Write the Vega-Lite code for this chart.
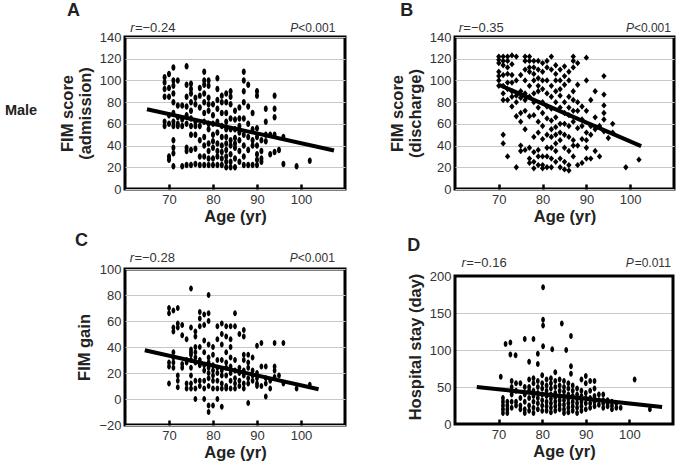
{
"$schema":"https://vega.github.io/schema/vega-lite/v6.json",
"autosize":{"type":"pad"},
"padding":{"left":3,"top":0,"right":2,"bottom":1},
"background":"white",
"datasets":{
"A":[
{"age":69,"score":103},{"age":69,"score":98},{"age":69,"score":92},{"age":69,"score":85},{"age":69,"score":62},{"age":69,"score":58},
{"age":70,"score":106},{"age":70,"score":93},{"age":70,"score":85},{"age":70,"score":68},{"age":70,"score":60},{"age":70,"score":30},{"age":70,"score":27},
{"age":71,"score":112},{"age":71,"score":100},{"age":71,"score":95},{"age":71,"score":88},{"age":71,"score":80},{"age":71,"score":70},{"age":71,"score":62},{"age":71,"score":58},{"age":71,"score":45},{"age":71,"score":38},{"age":71,"score":33},{"age":71,"score":21},
{"age":72,"score":100},{"age":72,"score":77},{"age":72,"score":66},{"age":72,"score":60},{"age":72,"score":58},
{"age":73,"score":77},{"age":73,"score":64},{"age":73,"score":58},{"age":73,"score":21},
{"age":74,"score":113},{"age":74,"score":96},{"age":74,"score":85},{"age":74,"score":76},{"age":74,"score":68},{"age":74,"score":60},{"age":74,"score":38},{"age":74,"score":35},{"age":74,"score":22},
{"age":75,"score":97},{"age":75,"score":92},{"age":75,"score":88},{"age":75,"score":80},{"age":75,"score":72},{"age":75,"score":65},{"age":75,"score":58},{"age":75,"score":50},{"age":75,"score":36},{"age":75,"score":22},
{"age":76,"score":84},{"age":76,"score":78},{"age":76,"score":62},{"age":76,"score":58},{"age":76,"score":50},{"age":76,"score":37},{"age":76,"score":23},
{"age":77,"score":93},{"age":77,"score":86},{"age":77,"score":75},{"age":77,"score":58},{"age":77,"score":45},{"age":77,"score":30},{"age":77,"score":22},
{"age":78,"score":108},{"age":78,"score":100},{"age":78,"score":96},{"age":78,"score":88},{"age":78,"score":80},{"age":78,"score":70},{"age":78,"score":62},{"age":78,"score":48},{"age":78,"score":40},{"age":78,"score":30},{"age":78,"score":22},
{"age":79,"score":100},{"age":79,"score":95},{"age":79,"score":84},{"age":79,"score":78},{"age":79,"score":72},{"age":79,"score":60},{"age":79,"score":55},{"age":79,"score":42},{"age":79,"score":35},{"age":79,"score":28},{"age":79,"score":22},
{"age":80,"score":78},{"age":80,"score":68},{"age":80,"score":60},{"age":80,"score":50},{"age":80,"score":44},{"age":80,"score":38},{"age":80,"score":28},{"age":80,"score":22},
{"age":81,"score":102},{"age":81,"score":92},{"age":81,"score":82},{"age":81,"score":74},{"age":81,"score":62},{"age":81,"score":52},{"age":81,"score":42},{"age":81,"score":35},{"age":81,"score":30},{"age":81,"score":22},
{"age":82,"score":86},{"age":82,"score":80},{"age":82,"score":70},{"age":82,"score":58},{"age":82,"score":48},{"age":82,"score":40},{"age":82,"score":34},{"age":82,"score":28},{"age":82,"score":22},
{"age":83,"score":88},{"age":83,"score":80},{"age":83,"score":70},{"age":83,"score":62},{"age":83,"score":55},{"age":83,"score":48},{"age":83,"score":42},{"age":83,"score":36},{"age":83,"score":30},{"age":83,"score":25},{"age":83,"score":20},
{"age":84,"score":90},{"age":84,"score":85},{"age":84,"score":78},{"age":84,"score":65},{"age":84,"score":55},{"age":84,"score":45},{"age":84,"score":40},{"age":84,"score":32},{"age":84,"score":25},{"age":84,"score":20},
{"age":85,"score":72},{"age":85,"score":64},{"age":85,"score":55},{"age":85,"score":47},{"age":85,"score":42},{"age":85,"score":38},{"age":85,"score":28},{"age":85,"score":20},
{"age":86,"score":75},{"age":86,"score":65},{"age":86,"score":58},{"age":86,"score":52},{"age":86,"score":45},{"age":86,"score":35},{"age":86,"score":25},
{"age":87,"score":108},{"age":87,"score":100},{"age":87,"score":90},{"age":87,"score":80},{"age":87,"score":65},{"age":87,"score":50},{"age":87,"score":40},{"age":87,"score":30},{"age":87,"score":22},
{"age":88,"score":96},{"age":88,"score":76},{"age":88,"score":60},{"age":88,"score":48},{"age":88,"score":36},{"age":88,"score":22},
{"age":89,"score":70},{"age":89,"score":55},{"age":89,"score":45},{"age":89,"score":40},{"age":89,"score":22},
{"age":90,"score":90},{"age":90,"score":86},{"age":90,"score":56},{"age":90,"score":48},{"age":90,"score":40},{"age":90,"score":32},{"age":90,"score":27},{"age":90,"score":22},
{"age":91,"score":45},{"age":91,"score":35},{"age":91,"score":28},{"age":91,"score":25},
{"age":92,"score":74},{"age":92,"score":62},{"age":92,"score":50},{"age":92,"score":44},
{"age":93,"score":50},{"age":93,"score":32},
{"age":94,"score":86},{"age":94,"score":74},{"age":94,"score":66},{"age":94,"score":50},{"age":94,"score":34},
{"age":95,"score":36},
{"age":96,"score":48},{"age":96,"score":23},
{"age":99,"score":21},
{"age":102,"score":26}
],
"B":[
{"age":70,"score":122},{"age":70,"score":119},{"age":70,"score":116},{"age":70,"score":108},{"age":70,"score":104},{"age":70,"score":100},{"age":70,"score":95},
{"age":71,"score":122},{"age":71,"score":118},{"age":71,"score":114},{"age":71,"score":105},{"age":71,"score":95},{"age":71,"score":88},{"age":71,"score":82},{"age":71,"score":50},{"age":71,"score":42},
{"age":72,"score":122},{"age":72,"score":118},{"age":72,"score":112},{"age":72,"score":106},{"age":72,"score":98},{"age":72,"score":92},{"age":72,"score":82},{"age":72,"score":30},
{"age":73,"score":123},{"age":73,"score":115},{"age":73,"score":105},{"age":73,"score":98},{"age":73,"score":90},{"age":73,"score":85},{"age":73,"score":76},
{"age":74,"score":122},{"age":74,"score":100},{"age":74,"score":86},{"age":74,"score":80},{"age":74,"score":67},{"age":74,"score":20},
{"age":75,"score":105},{"age":75,"score":90},{"age":75,"score":84},{"age":75,"score":70},{"age":75,"score":62},{"age":75,"score":40},{"age":75,"score":35},
{"age":76,"score":122},{"age":76,"score":118},{"age":76,"score":110},{"age":76,"score":100},{"age":76,"score":88},{"age":76,"score":82},{"age":76,"score":72},{"age":76,"score":55},{"age":76,"score":36},
{"age":77,"score":122},{"age":77,"score":118},{"age":77,"score":112},{"age":77,"score":108},{"age":77,"score":95},{"age":77,"score":85},{"age":77,"score":67},{"age":77,"score":38},{"age":77,"score":28},{"age":77,"score":24},
{"age":78,"score":118},{"age":78,"score":112},{"age":78,"score":106},{"age":78,"score":100},{"age":78,"score":88},{"age":78,"score":80},{"age":78,"score":68},{"age":78,"score":48},{"age":78,"score":34},{"age":78,"score":25},{"age":78,"score":19},
{"age":79,"score":118},{"age":79,"score":110},{"age":79,"score":102},{"age":79,"score":95},{"age":79,"score":90},{"age":79,"score":75},{"age":79,"score":62},{"age":79,"score":52},{"age":79,"score":36},{"age":79,"score":30},{"age":79,"score":22},
{"age":80,"score":116},{"age":80,"score":108},{"age":80,"score":100},{"age":80,"score":92},{"age":80,"score":80},{"age":80,"score":70},{"age":80,"score":58},{"age":80,"score":46},{"age":80,"score":30},{"age":80,"score":22},{"age":80,"score":19},
{"age":81,"score":118},{"age":81,"score":112},{"age":81,"score":100},{"age":81,"score":88},{"age":81,"score":76},{"age":81,"score":65},{"age":81,"score":50},{"age":81,"score":38},{"age":81,"score":30},{"age":81,"score":20},
{"age":82,"score":122},{"age":82,"score":110},{"age":82,"score":95},{"age":82,"score":85},{"age":82,"score":74},{"age":82,"score":63},{"age":82,"score":55},{"age":82,"score":48},{"age":82,"score":38},{"age":82,"score":28},{"age":82,"score":20},
{"age":83,"score":114},{"age":83,"score":106},{"age":83,"score":100},{"age":83,"score":90},{"age":83,"score":80},{"age":83,"score":66},{"age":83,"score":57},{"age":83,"score":50},{"age":83,"score":42},{"age":83,"score":35},{"age":83,"score":25},
{"age":84,"score":110},{"age":84,"score":100},{"age":84,"score":92},{"age":84,"score":86},{"age":84,"score":75},{"age":84,"score":60},{"age":84,"score":52},{"age":84,"score":45},{"age":84,"score":28},{"age":84,"score":20},
{"age":85,"score":113},{"age":85,"score":104},{"age":85,"score":96},{"age":85,"score":80},{"age":85,"score":70},{"age":85,"score":60},{"age":85,"score":50},{"age":85,"score":38},{"age":85,"score":25},{"age":85,"score":18},
{"age":86,"score":108},{"age":86,"score":100},{"age":86,"score":85},{"age":86,"score":75},{"age":86,"score":68},{"age":86,"score":58},{"age":86,"score":48},{"age":86,"score":35},{"age":86,"score":22},{"age":86,"score":17},
{"age":87,"score":122},{"age":87,"score":118},{"age":87,"score":112},{"age":87,"score":90},{"age":87,"score":82},{"age":87,"score":72},{"age":87,"score":62},{"age":87,"score":45},{"age":87,"score":40},{"age":87,"score":30},
{"age":88,"score":116},{"age":88,"score":96},{"age":88,"score":80},{"age":88,"score":72},{"age":88,"score":56},{"age":88,"score":40},{"age":88,"score":22},
{"age":89,"score":76},{"age":89,"score":64},{"age":89,"score":58},{"age":89,"score":46},{"age":89,"score":24},
{"age":90,"score":121},{"age":90,"score":100},{"age":90,"score":72},{"age":90,"score":52},{"age":90,"score":45},{"age":90,"score":38},{"age":90,"score":28},
{"age":91,"score":82},{"age":91,"score":58},{"age":91,"score":50},{"age":91,"score":28},
{"age":92,"score":90},{"age":92,"score":66},{"age":92,"score":55},{"age":92,"score":35},
{"age":93,"score":58},{"age":93,"score":30},
{"age":94,"score":104},{"age":94,"score":87},{"age":94,"score":77},{"age":94,"score":70},{"age":94,"score":64},{"age":94,"score":53},
{"age":95,"score":47},
{"age":96,"score":60},{"age":96,"score":52},
{"age":99,"score":20},
{"age":102,"score":27}
],
"C":[
{"age":70,"score":70},{"age":70,"score":66},{"age":70,"score":28},{"age":70,"score":25},{"age":70,"score":12},
{"age":71,"score":68},{"age":71,"score":55},{"age":71,"score":52},{"age":71,"score":36},{"age":71,"score":32},{"age":71,"score":28},{"age":71,"score":24},
{"age":72,"score":70},{"age":72,"score":58},{"age":72,"score":55},{"age":72,"score":18},{"age":72,"score":14},{"age":72,"score":9},
{"age":73,"score":57},{"age":73,"score":49},{"age":73,"score":27},{"age":73,"score":24},
{"age":74,"score":46},{"age":74,"score":30},{"age":74,"score":28},{"age":74,"score":12},{"age":74,"score":8},
{"age":75,"score":85},{"age":75,"score":55},{"age":75,"score":38},{"age":75,"score":36},{"age":75,"score":34},{"age":75,"score":30},{"age":75,"score":24},{"age":75,"score":18},{"age":75,"score":12},{"age":75,"score":8},
{"age":76,"score":52},{"age":76,"score":48},{"age":76,"score":40},{"age":76,"score":36},{"age":76,"score":32},{"age":76,"score":28},{"age":76,"score":14},{"age":76,"score":8},{"age":76,"score":0},
{"age":77,"score":67},{"age":77,"score":62},{"age":77,"score":56},{"age":77,"score":40},{"age":77,"score":30},{"age":77,"score":26},{"age":77,"score":14},{"age":77,"score":10},
{"age":78,"score":65},{"age":78,"score":57},{"age":78,"score":45},{"age":78,"score":36},{"age":78,"score":26},{"age":78,"score":22},{"age":78,"score":14},{"age":78,"score":8},{"age":78,"score":0},
{"age":79,"score":80},{"age":79,"score":66},{"age":79,"score":60},{"age":79,"score":42},{"age":79,"score":32},{"age":79,"score":28},{"age":79,"score":24},{"age":79,"score":20},{"age":79,"score":16},{"age":79,"score":10},{"age":79,"score":-5},{"age":79,"score":-10},
{"age":80,"score":40},{"age":80,"score":34},{"age":80,"score":26},{"age":80,"score":22},{"age":80,"score":18},{"age":80,"score":14},{"age":80,"score":8},{"age":80,"score":-5},
{"age":81,"score":56},{"age":81,"score":46},{"age":81,"score":30},{"age":81,"score":24},{"age":81,"score":20},{"age":81,"score":14},{"age":81,"score":8},{"age":81,"score":0},
{"age":82,"score":58},{"age":82,"score":50},{"age":82,"score":42},{"age":82,"score":30},{"age":82,"score":22},{"age":82,"score":18},{"age":82,"score":12},{"age":82,"score":8},{"age":82,"score":-6},
{"age":83,"score":56},{"age":83,"score":48},{"age":83,"score":36},{"age":83,"score":28},{"age":83,"score":24},{"age":83,"score":18},{"age":83,"score":10},{"age":83,"score":8},
{"age":84,"score":56},{"age":84,"score":46},{"age":84,"score":40},{"age":84,"score":32},{"age":84,"score":25},{"age":84,"score":20},{"age":84,"score":14},{"age":84,"score":8},
{"age":85,"score":66},{"age":85,"score":56},{"age":85,"score":30},{"age":85,"score":22},{"age":85,"score":16},{"age":85,"score":12},{"age":85,"score":8},
{"age":86,"score":50},{"age":86,"score":24},{"age":86,"score":20},{"age":86,"score":14},{"age":86,"score":10},
{"age":87,"score":53},{"age":87,"score":48},{"age":87,"score":34},{"age":87,"score":30},{"age":87,"score":22},{"age":87,"score":18},{"age":87,"score":12},{"age":87,"score":8},
{"age":88,"score":34},{"age":88,"score":28},{"age":88,"score":24},{"age":88,"score":16},{"age":88,"score":12},{"age":88,"score":-3},
{"age":89,"score":32},{"age":89,"score":22},{"age":89,"score":18},{"age":89,"score":14},
{"age":90,"score":41},{"age":90,"score":20},{"age":90,"score":16},{"age":90,"score":12},{"age":90,"score":10},
{"age":91,"score":43},{"age":91,"score":25},{"age":91,"score":10},
{"age":92,"score":25},{"age":92,"score":16},{"age":92,"score":12},{"age":92,"score":2},
{"age":93,"score":14},{"age":93,"score":8},
{"age":94,"score":43},{"age":94,"score":25},{"age":94,"score":22},{"age":94,"score":17},
{"age":95,"score":18},
{"age":96,"score":43},{"age":96,"score":12},
{"age":99,"score":8},
{"age":102,"score":11}
],
"D":[
{"age":70.5,"score":64},{"age":71.6,"score":108},{"age":72.7,"score":110},{"age":72.7,"score":94},{"age":73.9,"score":93},{"age":76,"score":115},{"age":77,"score":84},{"age":78,"score":115},{"age":79,"score":95},{"age":79,"score":81},{"age":80.2,"score":105},{"age":80.2,"score":185},{"age":80.2,"score":141},{"age":80.2,"score":133},{"age":82.3,"score":101},{"age":84.5,"score":136},{"age":85.5,"score":100},{"age":86.6,"score":119},{"age":86.6,"score":78},{"age":86.6,"score":68},{"age":101.2,"score":60},{"age":104.7,"score":20},{"age":80,"score":66},{"age":83,"score":70},
{"age":71,"score":35},{"age":71,"score":30},{"age":71,"score":25},{"age":71,"score":20},{"age":71,"score":15},
{"age":72,"score":30},{"age":72,"score":25},{"age":72,"score":20},{"age":72,"score":15},
{"age":73,"score":58},{"age":73,"score":50},{"age":73,"score":40},{"age":73,"score":30},{"age":73,"score":22},
{"age":74,"score":55},{"age":74,"score":45},{"age":74,"score":30},{"age":74,"score":25},
{"age":75,"score":55},{"age":75,"score":35},{"age":75,"score":25},{"age":75,"score":20},
{"age":76,"score":50},{"age":76,"score":40},{"age":76,"score":30},{"age":76,"score":20},{"age":76,"score":15},
{"age":77,"score":60},{"age":77,"score":50},{"age":77,"score":45},{"age":77,"score":35},{"age":77,"score":25},{"age":77,"score":18},
{"age":78,"score":62},{"age":78,"score":55},{"age":78,"score":45},{"age":78,"score":38},{"age":78,"score":30},{"age":78,"score":22},{"age":78,"score":15},
{"age":79,"score":58},{"age":79,"score":50},{"age":79,"score":42},{"age":79,"score":35},{"age":79,"score":28},{"age":79,"score":20},
{"age":80,"score":55},{"age":80,"score":48},{"age":80,"score":40},{"age":80,"score":32},{"age":80,"score":25},{"age":80,"score":18},
{"age":81,"score":60},{"age":81,"score":52},{"age":81,"score":45},{"age":81,"score":38},{"age":81,"score":30},{"age":81,"score":24},{"age":81,"score":18},
{"age":82,"score":62},{"age":82,"score":55},{"age":82,"score":48},{"age":82,"score":40},{"age":82,"score":34},{"age":82,"score":28},{"age":82,"score":22},{"age":82,"score":16},
{"age":83,"score":58},{"age":83,"score":50},{"age":83,"score":42},{"age":83,"score":36},{"age":83,"score":30},{"age":83,"score":24},{"age":83,"score":18},
{"age":84,"score":60},{"age":84,"score":52},{"age":84,"score":45},{"age":84,"score":38},{"age":84,"score":32},{"age":84,"score":26},{"age":84,"score":20},
{"age":85,"score":58},{"age":85,"score":50},{"age":85,"score":44},{"age":85,"score":38},{"age":85,"score":32},{"age":85,"score":26},{"age":85,"score":20},{"age":85,"score":15},
{"age":86,"score":55},{"age":86,"score":48},{"age":86,"score":40},{"age":86,"score":34},{"age":86,"score":28},{"age":86,"score":22},{"age":86,"score":16},
{"age":87,"score":52},{"age":87,"score":45},{"age":87,"score":38},{"age":87,"score":30},{"age":87,"score":24},{"age":87,"score":18},
{"age":88,"score":48},{"age":88,"score":40},{"age":88,"score":34},{"age":88,"score":28},{"age":88,"score":22},{"age":88,"score":15},
{"age":89,"score":60},{"age":89,"score":45},{"age":89,"score":38},{"age":89,"score":30},{"age":89,"score":24},{"age":89,"score":18},
{"age":90,"score":65},{"age":90,"score":55},{"age":90,"score":42},{"age":90,"score":35},{"age":90,"score":28},{"age":90,"score":20},
{"age":91,"score":58},{"age":91,"score":45},{"age":91,"score":35},{"age":91,"score":28},{"age":91,"score":22},
{"age":92,"score":58},{"age":92,"score":48},{"age":92,"score":38},{"age":92,"score":30},{"age":92,"score":24},
{"age":93,"score":40},{"age":93,"score":32},{"age":93,"score":26},
{"age":94,"score":40},{"age":94,"score":32},{"age":94,"score":28},{"age":94,"score":22},
{"age":95,"score":32},{"age":95,"score":28},{"age":95,"score":24},
{"age":96,"score":30},{"age":96,"score":25},{"age":96,"score":20},
{"age":97,"score":28},{"age":97,"score":22},
{"age":98,"score":22}
]
},
"columns":2,
"spacing":{"row":4,"column":40},
"concat":[
{
 "width":220,"height":152,
 "title":{"text":"A","dx":62},
 "layer":[
  {"data":{"name":"A"},"mark":{"type":"point","shape":"M0,-1A0.62,1,0,1,1,0,1A0.62,1,0,1,1,0,-1Z","filled":true,"size":42,"color":"#000","opacity":1},
   "encoding":{
    "x":{"field":"age","type":"quantitative","scale":{"domain":[60,110],"nice":false,"zero":false},"axis":{"values":[70,80,90,100],"grid":false},"title":"Age (yr)"},
    "y":{"field":"score","type":"quantitative","scale":{"domain":[0,140],"nice":false},"axis":{"values":[0,20,40,60,80,100,120,140],"grid":true},"title":["FIM score","(admission)"]}}},
  {"data":{"values":[{"age":65,"score":73.5},{"age":107.5,"score":35.5}]},"mark":{"type":"line","color":"#000","strokeWidth":4},
   "encoding":{
    "x":{"field":"age","type":"quantitative","scale":{"domain":[60,110],"nice":false,"zero":false},"axis":{"values":[70,80,90,100],"grid":false},"title":"Age (yr)"},
    "y":{"field":"score","type":"quantitative","scale":{"domain":[0,140],"nice":false},"axis":{"values":[0,20,40,60,80,100,120,140],"grid":true},"title":["FIM score","(admission)"]}}},
  {"data":{"values":[{"label":"r"}]},"mark":{"type":"text","fontStyle":"italic","align":"left","baseline":"alphabetic","dy":-5,"fontSize":13,"color":"#333"},
   "encoding":{"x":{"datum":61.2,"type":"quantitative","scale":{"domain":[60,110],"nice":false,"zero":false},"axis":{"values":[70,80,90,100],"grid":false},"title":"Age (yr)"},"y":{"datum":140,"type":"quantitative","scale":{"domain":[0,140],"nice":false},"axis":{"values":[0,20,40,60,80,100,120,140],"grid":true},"title":["FIM score","(admission)"]},"text":{"field":"label","type":"nominal"}}},
  {"data":{"values":[{"label":"=−0.24"}]},"mark":{"type":"text","align":"left","baseline":"alphabetic","dy":-5,"dx":4.6,"fontSize":13,"color":"#333"},
   "encoding":{"x":{"datum":61.2,"type":"quantitative","scale":{"domain":[60,110],"nice":false,"zero":false},"axis":{"values":[70,80,90,100],"grid":false},"title":"Age (yr)"},"y":{"datum":140,"type":"quantitative","scale":{"domain":[0,140],"nice":false},"axis":{"values":[0,20,40,60,80,100,120,140],"grid":true},"title":["FIM score","(admission)"]},"text":{"field":"label","type":"nominal"}}},
  {"data":{"values":[{"label":"<0.001"}]},"mark":{"type":"text","align":"right","baseline":"alphabetic","dy":-5,"fontSize":12,"color":"#333"},
   "encoding":{"x":{"datum":107.8,"type":"quantitative","scale":{"domain":[60,110],"nice":false,"zero":false},"axis":{"values":[70,80,90,100],"grid":false},"title":"Age (yr)"},"y":{"datum":140,"type":"quantitative","scale":{"domain":[0,140],"nice":false},"axis":{"values":[0,20,40,60,80,100,120,140],"grid":true},"title":["FIM score","(admission)"]},"text":{"field":"label","type":"nominal"}}},
  {"data":{"values":[{"label":"P"}]},"mark":{"type":"text","fontStyle":"italic","align":"right","baseline":"alphabetic","dy":-5,"dx":-37,"fontSize":12,"color":"#333"},
   "encoding":{"x":{"datum":107.8,"type":"quantitative","scale":{"domain":[60,110],"nice":false,"zero":false},"axis":{"values":[70,80,90,100],"grid":false},"title":"Age (yr)"},"y":{"datum":140,"type":"quantitative","scale":{"domain":[0,140],"nice":false},"axis":{"values":[0,20,40,60,80,100,120,140],"grid":true},"title":["FIM score","(admission)"]},"text":{"field":"label","type":"nominal"}}},
  {"data":{"values":[{"label":"Male"}]},"mark":{"type":"text","align":"left","baseline":"middle","fontSize":14.5,"fontWeight":"bold","color":"#222"},
   "encoding":{"x":{"datum":32.7,"type":"quantitative","scale":{"domain":[60,110],"nice":false,"zero":false},"axis":{"values":[70,80,90,100],"grid":false},"title":"Age (yr)"},"y":{"datum":72,"type":"quantitative","scale":{"domain":[0,140],"nice":false},"axis":{"values":[0,20,40,60,80,100,120,140],"grid":true},"title":["FIM score","(admission)"]},"text":{"field":"label","type":"nominal"}}}
 ]
},
{
 "width":219,"height":152,
 "title":{"text":"B","dx":11},
 "layer":[
  {"data":{"name":"B"},"mark":{"type":"point","shape":"M0,-1L0.85,0L0,1L-0.85,0Z","filled":true,"size":40,"color":"#000","opacity":1},
   "encoding":{
    "x":{"field":"age","type":"quantitative","scale":{"domain":[60,110],"nice":false,"zero":false},"axis":{"values":[70,80,90,100],"grid":false},"title":"Age (yr)"},
    "y":{"field":"score","type":"quantitative","scale":{"domain":[0,140],"nice":false},"axis":{"values":[0,20,40,60,80,100,120,140],"grid":true},"title":["FIM score","(discharge)"]}}},
  {"data":{"values":[{"age":70,"score":96},{"age":102.5,"score":39.5}]},"mark":{"type":"line","color":"#000","strokeWidth":4},
   "encoding":{
    "x":{"field":"age","type":"quantitative","scale":{"domain":[60,110],"nice":false,"zero":false},"axis":{"values":[70,80,90,100],"grid":false},"title":"Age (yr)"},
    "y":{"field":"score","type":"quantitative","scale":{"domain":[0,140],"nice":false},"axis":{"values":[0,20,40,60,80,100,120,140],"grid":true},"title":["FIM score","(discharge)"]}}},
  {"data":{"values":[{"label":"r"}]},"mark":{"type":"text","fontStyle":"italic","align":"left","baseline":"alphabetic","dy":-5,"fontSize":13,"color":"#333"},
   "encoding":{"x":{"datum":60.85,"type":"quantitative","scale":{"domain":[60,110],"nice":false,"zero":false},"axis":{"values":[70,80,90,100],"grid":false},"title":"Age (yr)"},"y":{"datum":140,"type":"quantitative","scale":{"domain":[0,140],"nice":false},"axis":{"values":[0,20,40,60,80,100,120,140],"grid":true},"title":["FIM score","(discharge)"]},"text":{"field":"label","type":"nominal"}}},
  {"data":{"values":[{"label":"=−0.35"}]},"mark":{"type":"text","align":"left","baseline":"alphabetic","dy":-5,"dx":4.6,"fontSize":13,"color":"#333"},
   "encoding":{"x":{"datum":60.85,"type":"quantitative","scale":{"domain":[60,110],"nice":false,"zero":false},"axis":{"values":[70,80,90,100],"grid":false},"title":"Age (yr)"},"y":{"datum":140,"type":"quantitative","scale":{"domain":[0,140],"nice":false},"axis":{"values":[0,20,40,60,80,100,120,140],"grid":true},"title":["FIM score","(discharge)"]},"text":{"field":"label","type":"nominal"}}},
  {"data":{"values":[{"label":"<0.001"}]},"mark":{"type":"text","align":"right","baseline":"alphabetic","dy":-5,"fontSize":12,"color":"#333"},
   "encoding":{"x":{"datum":109.3,"type":"quantitative","scale":{"domain":[60,110],"nice":false,"zero":false},"axis":{"values":[70,80,90,100],"grid":false},"title":"Age (yr)"},"y":{"datum":140,"type":"quantitative","scale":{"domain":[0,140],"nice":false},"axis":{"values":[0,20,40,60,80,100,120,140],"grid":true},"title":["FIM score","(discharge)"]},"text":{"field":"label","type":"nominal"}}},
  {"data":{"values":[{"label":"P"}]},"mark":{"type":"text","fontStyle":"italic","align":"right","baseline":"alphabetic","dy":-5,"dx":-37,"fontSize":12,"color":"#333"},
   "encoding":{"x":{"datum":109.3,"type":"quantitative","scale":{"domain":[60,110],"nice":false,"zero":false},"axis":{"values":[70,80,90,100],"grid":false},"title":"Age (yr)"},"y":{"datum":140,"type":"quantitative","scale":{"domain":[0,140],"nice":false},"axis":{"values":[0,20,40,60,80,100,120,140],"grid":true},"title":["FIM score","(discharge)"]},"text":{"field":"label","type":"nominal"}}}
 ]
},
{
 "width":220,"height":156,
 "title":{"text":"C","dx":-2},
 "layer":[
  {"data":{"name":"C"},"mark":{"type":"point","shape":"M0,-1A0.62,1,0,1,1,0,1A0.62,1,0,1,1,0,-1Z","filled":true,"size":36,"color":"#000","opacity":1},
   "encoding":{
    "x":{"field":"age","type":"quantitative","scale":{"domain":[60,110],"nice":false,"zero":false},"axis":{"values":[70,80,90,100],"grid":false},"title":"Age (yr)"},
    "y":{"field":"score","type":"quantitative","scale":{"domain":[-20,100],"nice":false,"zero":false},"axis":{"values":[-20,0,20,40,60,80,100],"grid":true},"title":"FIM gain"}}},
  {"data":{"values":[{"age":64.5,"score":37.5},{"age":104,"score":7.5}]},"mark":{"type":"line","color":"#000","strokeWidth":4},
   "encoding":{
    "x":{"field":"age","type":"quantitative","scale":{"domain":[60,110],"nice":false,"zero":false},"axis":{"values":[70,80,90,100],"grid":false},"title":"Age (yr)"},
    "y":{"field":"score","type":"quantitative","scale":{"domain":[-20,100],"nice":false,"zero":false},"axis":{"values":[-20,0,20,40,60,80,100],"grid":true},"title":"FIM gain"}}},
  {"data":{"values":[{"label":"r"}]},"mark":{"type":"text","fontStyle":"italic","align":"left","baseline":"alphabetic","dy":-7,"fontSize":13,"color":"#333"},
   "encoding":{"x":{"datum":61.1,"type":"quantitative","scale":{"domain":[60,110],"nice":false,"zero":false},"axis":{"values":[70,80,90,100],"grid":false},"title":"Age (yr)"},"y":{"datum":100,"type":"quantitative","scale":{"domain":[-20,100],"nice":false,"zero":false},"axis":{"values":[-20,0,20,40,60,80,100],"grid":true},"title":"FIM gain"},"text":{"field":"label","type":"nominal"}}},
  {"data":{"values":[{"label":"=−0.28"}]},"mark":{"type":"text","align":"left","baseline":"alphabetic","dy":-7,"dx":4.6,"fontSize":13,"color":"#333"},
   "encoding":{"x":{"datum":61.1,"type":"quantitative","scale":{"domain":[60,110],"nice":false,"zero":false},"axis":{"values":[70,80,90,100],"grid":false},"title":"Age (yr)"},"y":{"datum":100,"type":"quantitative","scale":{"domain":[-20,100],"nice":false,"zero":false},"axis":{"values":[-20,0,20,40,60,80,100],"grid":true},"title":"FIM gain"},"text":{"field":"label","type":"nominal"}}},
  {"data":{"values":[{"label":"<0.001"}]},"mark":{"type":"text","align":"right","baseline":"alphabetic","dy":-7,"fontSize":12,"color":"#333"},
   "encoding":{"x":{"datum":107.7,"type":"quantitative","scale":{"domain":[60,110],"nice":false,"zero":false},"axis":{"values":[70,80,90,100],"grid":false},"title":"Age (yr)"},"y":{"datum":100,"type":"quantitative","scale":{"domain":[-20,100],"nice":false,"zero":false},"axis":{"values":[-20,0,20,40,60,80,100],"grid":true},"title":"FIM gain"},"text":{"field":"label","type":"nominal"}}},
  {"data":{"values":[{"label":"P"}]},"mark":{"type":"text","fontStyle":"italic","align":"right","baseline":"alphabetic","dy":-7,"dx":-37,"fontSize":12,"color":"#333"},
   "encoding":{"x":{"datum":107.7,"type":"quantitative","scale":{"domain":[60,110],"nice":false,"zero":false},"axis":{"values":[70,80,90,100],"grid":false},"title":"Age (yr)"},"y":{"datum":100,"type":"quantitative","scale":{"domain":[-20,100],"nice":false,"zero":false},"axis":{"values":[-20,0,20,40,60,80,100],"grid":true},"title":"FIM gain"},"text":{"field":"label","type":"nominal"}}}
 ]
},
{
 "width":218,"height":155,
 "view":{"stroke":null},
 "title":{"text":"D","dx":0},
 "layer":[
  {"data":{"values":[{"label":"frame"}]},"mark":{"type":"rect","filled":false,"color":"#000","strokeWidth":3},
   "encoding":{"x":{"datum":60,"type":"quantitative","scale":{"domain":[60,110],"nice":false,"zero":false},"axis":{"values":[70,80,90,100],"grid":false},"title":"Age (yr)"},"x2":{"datum":110},"y":{"datum":0,"type":"quantitative","scale":{"domain":[0,209.5],"nice":false},"axis":{"values":[0,50,100,150,200],"grid":true},"title":"Hospital stay (day)"},"y2":{"datum":200}}},
  {"data":{"name":"D"},"mark":{"type":"point","shape":"M0,-1A0.62,1,0,1,1,0,1A0.62,1,0,1,1,0,-1Z","filled":true,"size":36,"color":"#000","opacity":1},
   "encoding":{
    "x":{"field":"age","type":"quantitative","scale":{"domain":[60,110],"nice":false,"zero":false},"axis":{"values":[70,80,90,100],"grid":false},"title":"Age (yr)"},
    "y":{"field":"score","type":"quantitative","scale":{"domain":[0,209.5],"nice":false},"axis":{"values":[0,50,100,150,200],"grid":true},"title":"Hospital stay (day)"}}},
  {"data":{"values":[{"age":65,"score":50},{"age":107.5,"score":23}]},"mark":{"type":"line","color":"#000","strokeWidth":4},
   "encoding":{
    "x":{"field":"age","type":"quantitative","scale":{"domain":[60,110],"nice":false,"zero":false},"axis":{"values":[70,80,90,100],"grid":false},"title":"Age (yr)"},
    "y":{"field":"score","type":"quantitative","scale":{"domain":[0,209.5],"nice":false},"axis":{"values":[0,50,100,150,200],"grid":true},"title":"Hospital stay (day)"}}},
  {"data":{"values":[{"label":"r"}]},"mark":{"type":"text","fontStyle":"italic","align":"left","baseline":"alphabetic","dy":-9,"fontSize":13,"color":"#333"},
   "encoding":{"x":{"datum":61.5,"type":"quantitative","scale":{"domain":[60,110],"nice":false,"zero":false},"axis":{"values":[70,80,90,100],"grid":false},"title":"Age (yr)"},"y":{"datum":200,"type":"quantitative","scale":{"domain":[0,209.5],"nice":false},"axis":{"values":[0,50,100,150,200],"grid":true},"title":"Hospital stay (day)"},"text":{"field":"label","type":"nominal"}}},
  {"data":{"values":[{"label":"=−0.16"}]},"mark":{"type":"text","align":"left","baseline":"alphabetic","dy":-9,"dx":4.6,"fontSize":13,"color":"#333"},
   "encoding":{"x":{"datum":61.5,"type":"quantitative","scale":{"domain":[60,110],"nice":false,"zero":false},"axis":{"values":[70,80,90,100],"grid":false},"title":"Age (yr)"},"y":{"datum":200,"type":"quantitative","scale":{"domain":[0,209.5],"nice":false},"axis":{"values":[0,50,100,150,200],"grid":true},"title":"Hospital stay (day)"},"text":{"field":"label","type":"nominal"}}},
  {"data":{"values":[{"label":"=0.011"}]},"mark":{"type":"text","align":"right","baseline":"alphabetic","dy":-9,"fontSize":12,"color":"#333"},
   "encoding":{"x":{"datum":109.5,"type":"quantitative","scale":{"domain":[60,110],"nice":false,"zero":false},"axis":{"values":[70,80,90,100],"grid":false},"title":"Age (yr)"},"y":{"datum":200,"type":"quantitative","scale":{"domain":[0,209.5],"nice":false},"axis":{"values":[0,50,100,150,200],"grid":true},"title":"Hospital stay (day)"},"text":{"field":"label","type":"nominal"}}},
  {"data":{"values":[{"label":"P"}]},"mark":{"type":"text","fontStyle":"italic","align":"right","baseline":"alphabetic","dy":-9,"dx":-37,"fontSize":12,"color":"#333"},
   "encoding":{"x":{"datum":109.5,"type":"quantitative","scale":{"domain":[60,110],"nice":false,"zero":false},"axis":{"values":[70,80,90,100],"grid":false},"title":"Age (yr)"},"y":{"datum":200,"type":"quantitative","scale":{"domain":[0,209.5],"nice":false},"axis":{"values":[0,50,100,150,200],"grid":true},"title":"Hospital stay (day)"},"text":{"field":"label","type":"nominal"}}}
 ]
}
],
"config":{
 "font":"Liberation Sans",
 "view":{"stroke":"#000","strokeWidth":3},
 "title":{"anchor":"start","frame":"bounds","fontSize":18,"fontWeight":"bold","color":"#222","offset":2,"font":"Liberation Sans"},
 "axis":{"labelFont":"Liberation Sans","labelFontSize":13,"labelColor":"#333","titleFont":"Liberation Sans","titleFontSize":16.5,"titleFontWeight":"bold","titleColor":"#222","domain":false,"titlePadding":6,"labelOverlap":false},
 "axisX":{"grid":false,"ticks":true,"tickSize":-5,"tickWidth":2.5,"tickColor":"#000","labelPadding":9,"titlePadding":2},
 "axisY":{"grid":true,"gridColor":"#c8c8c8","gridWidth":1,"ticks":false,"labelPadding":4,"titleLineHeight":18}
}
}
